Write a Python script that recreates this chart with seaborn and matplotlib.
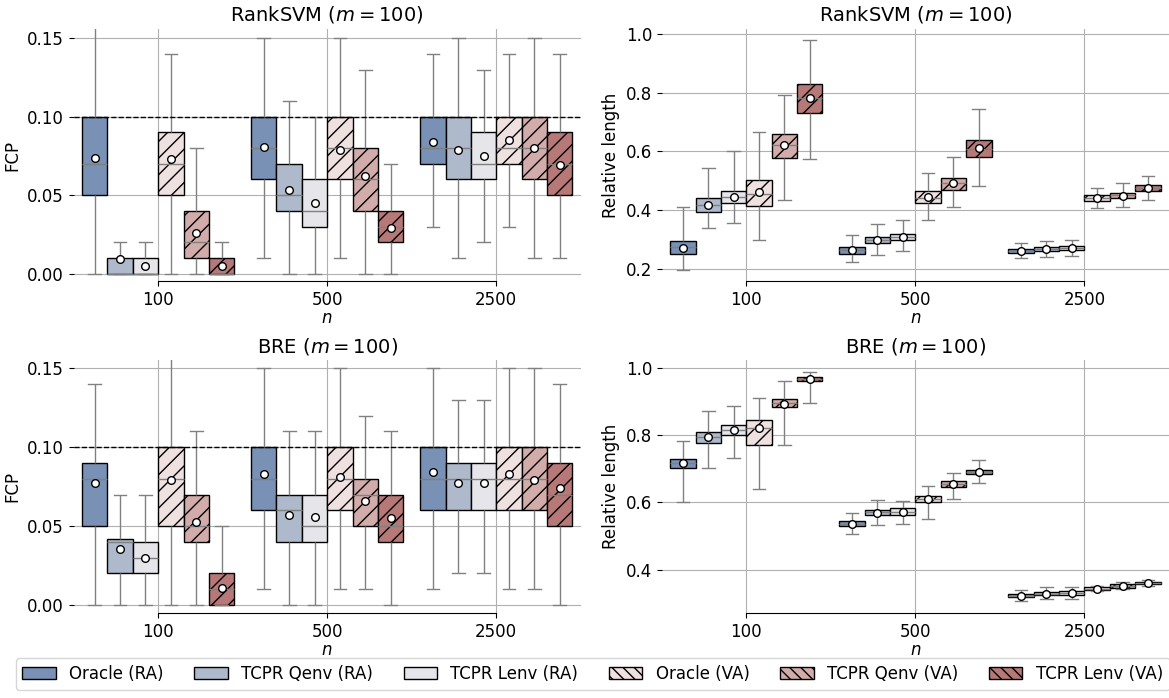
import numpy as np
import pandas as pd
import matplotlib
matplotlib.use("Agg")
import matplotlib.pyplot as plt
import matplotlib.patches as mpatches
import seaborn as sns

# categories
sizes = ["100", "500", "2500"]
methods = ["Oracle (RA)", "TCPR Qenv (RA)", "TCPR Lenv (RA)",
           "Oracle (VA)", "TCPR Qenv (VA)", "TCPR Lenv (VA)"]

# box stats, 18 boxes each: n=100 | n=500 | n=2500, 6 methods in order
# RankSVM, FCP
rank_fcp_lo = [0, 0, 0, 0, 0, 0,  0.01, 0, 0, 0.01, 0, 0,  0.03, 0.01, 0.02, 0.03, 0.01, 0.01]
rank_fcp_q1 = [0.05, 0, 0, 0.05, 0.01, 0,  0.06, 0.04, 0.03, 0.06, 0.04, 0.02,  0.07, 0.06, 0.06, 0.07, 0.06, 0.05]
rank_fcp_med = [0.07, 0, 0, 0.07, 0.02, 0,  0.08, 0.05, 0.04, 0.08, 0.06, 0.03,  0.08, 0.08, 0.07, 0.08, 0.08, 0.07]
rank_fcp_q3 = [0.10, 0.01, 0.01, 0.09, 0.04, 0.01,  0.10, 0.07, 0.06, 0.10, 0.08, 0.04,  0.10, 0.10, 0.09, 0.10, 0.10, 0.09]
rank_fcp_hi = [0.17, 0.02, 0.02, 0.14, 0.08, 0.02,  0.15, 0.11, 0.10, 0.15, 0.13, 0.07,  0.14, 0.15, 0.13, 0.14, 0.15, 0.14]
rank_fcp_mean = [0.074, 0.009, 0.005, 0.073, 0.026, 0.005,  0.081, 0.053, 0.045, 0.079, 0.062, 0.029,  0.084, 0.079, 0.075, 0.085, 0.080, 0.069]

# RankSVM, relative length
rank_len_lo = [0.197, 0.339, 0.357, 0.299, 0.433, 0.575,  0.223, 0.247, 0.260, 0.367, 0.411, 0.483,  0.239, 0.242, 0.245, 0.406, 0.411, 0.435]
rank_len_q1 = [0.252, 0.395, 0.423, 0.414, 0.578, 0.732,  0.252, 0.288, 0.298, 0.423, 0.468, 0.582,  0.255, 0.260, 0.264, 0.432, 0.441, 0.466]
rank_len_med = [0.275, 0.419, 0.445, 0.455, 0.622, 0.780,  0.264, 0.300, 0.309, 0.443, 0.493, 0.609,  0.260, 0.268, 0.270, 0.442, 0.450, 0.476]
rank_len_q3 = [0.297, 0.440, 0.465, 0.503, 0.658, 0.828,  0.275, 0.309, 0.320, 0.464, 0.510, 0.639,  0.268, 0.275, 0.277, 0.450, 0.459, 0.485]
rank_len_hi = [0.410, 0.543, 0.600, 0.666, 0.792, 0.977,  0.317, 0.352, 0.366, 0.526, 0.582, 0.745,  0.289, 0.295, 0.298, 0.477, 0.493, 0.517]
rank_len_mean = [0.273, 0.419, 0.445, 0.461, 0.620, 0.780,  0.265, 0.300, 0.309, 0.444, 0.492, 0.610,  0.261, 0.268, 0.270, 0.441, 0.449, 0.476]

# BRE, FCP
bre_fcp_lo = [0, 0, 0, 0, 0, 0,  0.01, 0, 0, 0.01, 0.01, 0,  0.01, 0.02, 0.02, 0.01, 0.01, 0]
bre_fcp_q1 = [0.05, 0.02, 0.02, 0.05, 0.04, 0,  0.06, 0.04, 0.04, 0.06, 0.05, 0.04,  0.06, 0.06, 0.06, 0.06, 0.06, 0.05]
bre_fcp_med = [0.08, 0.04, 0.03, 0.08, 0.05, 0.01,  0.08, 0.06, 0.05, 0.08, 0.07, 0.05,  0.08, 0.08, 0.08, 0.08, 0.08, 0.07]
bre_fcp_q3 = [0.09, 0.042, 0.04, 0.10, 0.07, 0.02,  0.10, 0.07, 0.07, 0.10, 0.08, 0.07,  0.10, 0.09, 0.09, 0.10, 0.10, 0.09]
bre_fcp_hi = [0.14, 0.07, 0.07, 0.17, 0.11, 0.05,  0.15, 0.11, 0.11, 0.15, 0.12, 0.11,  0.15, 0.13, 0.13, 0.15, 0.15, 0.14]
bre_fcp_mean = [0.077, 0.0355, 0.030, 0.079, 0.0525, 0.011,  0.083, 0.057, 0.056, 0.081, 0.066, 0.055,  0.084, 0.077, 0.077, 0.083, 0.079, 0.074]

# BRE, relative length
bre_len_lo = [0.601, 0.701, 0.733, 0.641, 0.770, 0.897,  0.506, 0.534, 0.535, 0.552, 0.610, 0.658,  0.306, 0.313, 0.313, 0.337, 0.342, 0.353]
bre_len_q1 = [0.702, 0.778, 0.800, 0.771, 0.885, 0.962,  0.529, 0.562, 0.563, 0.601, 0.647, 0.684,  0.318, 0.324, 0.325, 0.340, 0.347, 0.357]
bre_len_med = [0.717, 0.795, 0.814, 0.820, 0.895, 0.968,  0.537, 0.571, 0.573, 0.611, 0.655, 0.690,  0.323, 0.329, 0.331, 0.344, 0.352, 0.361]
bre_len_q3 = [0.730, 0.810, 0.829, 0.846, 0.906, 0.973,  0.545, 0.578, 0.582, 0.620, 0.663, 0.697,  0.328, 0.335, 0.336, 0.348, 0.357, 0.365]
bre_len_hi = [0.784, 0.872, 0.887, 0.909, 0.960, 0.988,  0.568, 0.608, 0.605, 0.648, 0.688, 0.726,  0.340, 0.348, 0.348, 0.351, 0.363, 0.369]
bre_len_mean = [0.717, 0.794, 0.816, 0.820, 0.892, 0.968,  0.537, 0.569, 0.572, 0.611, 0.654, 0.690,  0.323, 0.329, 0.330, 0.344, 0.352, 0.361]

# colours
box_colors = [sns.desaturate(c, 0.75) for c in sns.color_palette("vlag", 6)]


def make_frame(*stats):
    # one row per value, so the boxplot gets the quartiles from these points
    rows = []
    for i in range(len(stats[0])):
        for s in stats:
            rows.append({"n": sizes[i // 6], "method": methods[i % 6], "value": s[i]})
    return pd.DataFrame(rows)


def draw_panel(ax, box_df, mean_df, title, ylabel):
    sns.boxplot(data=box_df, x="n", y="value", hue="method",
                order=sizes, hue_order=methods, palette=box_colors, saturation=1,
                width=0.9, whis=(0, 100), showfliers=False,
                linecolor="0.5", linewidth=1, legend=False, ax=ax)

    # black edges, hatching on the VA boxes
    for patch in ax.patches:
        fc = np.array(patch.get_facecolor()[:3])
        j = int(np.argmin([np.sum((fc - np.array(c)) ** 2) for c in box_colors]))
        patch.set_edgecolor("black")
        if j >= 3:
            patch.set_hatch("//")

    # mean markers
    sns.pointplot(data=mean_df, x="n", y="value", hue="method",
                  order=sizes, hue_order=methods, palette=["white"] * 6,
                  dodge=0.75, linestyle="none", marker="o", errorbar=None,
                  markersize=5.5, markeredgecolor="black", markeredgewidth=1,
                  legend=False, zorder=6, ax=ax)

    ax.set_title(title, fontsize=14)
    ax.set_ylabel(ylabel, fontsize=12)
    ax.set_xlabel("$n$", fontsize=12, labelpad=0)
    ax.tick_params(labelsize=12)
    ax.set_axisbelow(True)
    ax.grid(True)


fig, axes = plt.subplots(2, 2, figsize=(11.69, 6.98), dpi=100)
plt.subplots_adjust(left=0.063, right=1.0, bottom=0.122, top=0.9585, wspace=0.16, hspace=0.313)

draw_panel(axes[0, 0], make_frame(rank_fcp_lo, rank_fcp_q1, rank_fcp_med, rank_fcp_q3, rank_fcp_hi),
           make_frame(rank_fcp_mean), "RankSVM ($m = 100$)", "FCP")
draw_panel(axes[0, 1], make_frame(rank_len_lo, rank_len_q1, rank_len_med, rank_len_q3, rank_len_hi),
           make_frame(rank_len_mean), "RankSVM ($m = 100$)", "Relative length")
draw_panel(axes[1, 0], make_frame(bre_fcp_lo, bre_fcp_q1, bre_fcp_med, bre_fcp_q3, bre_fcp_hi),
           make_frame(bre_fcp_mean), "BRE ($m = 100$)", "FCP")
draw_panel(axes[1, 1], make_frame(bre_len_lo, bre_len_q1, bre_len_med, bre_len_q3, bre_len_hi),
           make_frame(bre_len_mean), "BRE ($m = 100$)", "Relative length")

# nominal level on the FCP panels
for ax, top in [(axes[0, 0], 0.156), (axes[1, 0], 0.155)]:
    ax.axhline(0.1, color="black", linestyle="--", linewidth=1, zorder=5)
    ax.set_ylim(-0.005, top)
    ax.set_yticks([0, 0.05, 0.10, 0.15])

axes[0, 1].set_yticks([0.2, 0.4, 0.6, 0.8, 1.0])
axes[1, 1].set_yticks([0.4, 0.6, 0.8, 1.0])

for ax in axes.flat:
    ax.set_xlim(-0.5, 2.5)
    sns.despine(ax=ax, left=True, trim=True)

# shared legend
handles = []
for j, m in enumerate(methods):
    handles.append(mpatches.Patch(facecolor=box_colors[j], edgecolor="black",
                                  hatch="\\\\\\" if j >= 3 else None, label=m))
fig.legend(handles=handles, loc="lower center", bbox_to_anchor=(0.507, 0.0),
           ncol=6, fontsize=12, columnspacing=1.85)

plt.savefig("out.png", dpi=100)
